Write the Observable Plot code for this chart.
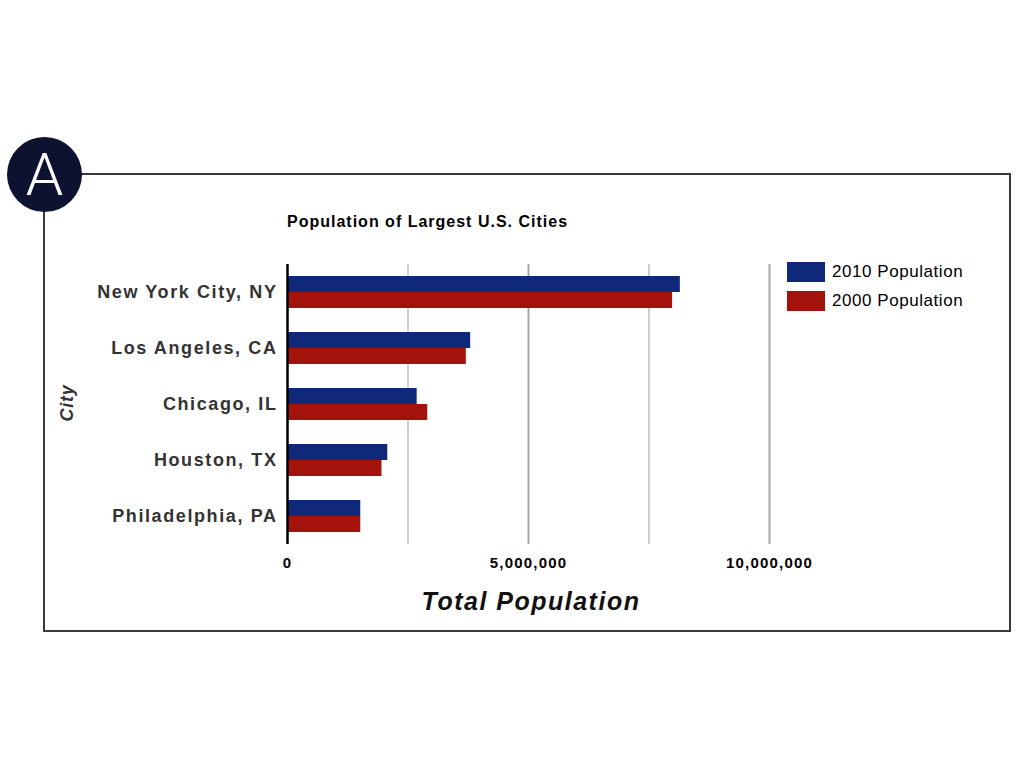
<!DOCTYPE html>
<html>
<head>
<meta charset="utf-8">
<script src="https://cdn.jsdelivr.net/npm/d3@7"></script>
<script src="https://cdn.jsdelivr.net/npm/@observablehq/plot@0.6"></script>
<style>
  body { margin: 0; background: #fff; }
  #wrap { position: relative; width: 1024px; height: 768px; overflow: hidden; font-family: "Liberation Sans", Arial, sans-serif; }
  #chart { position: absolute; left: 0; top: 239px; width: 1024px; }
  .frame { position: absolute; left: 43px; top: 173px; width: 968px; height: 459px; box-sizing: border-box; border: 2px solid #3a3a3a; }
  .badge { position: absolute; left: 7px; top: 137px; width: 75px; height: 75px; border-radius: 50%; background: #0c1230;
           color: #fff; font-family: Roboto, "Open Sans", sans-serif; font-weight: 300; font-size: 60px; line-height: 75px; text-align: center; }
  .title { position: absolute; left: 287px; top: 214px; font-size: 16px; line-height: 16px; font-weight: bold; letter-spacing: 1px; color: #000; white-space: nowrap; }
  .xlabel { position: absolute; left: 331px; width: 400px; top: 589px; text-align: center; font-size: 25px; line-height: 25px; font-weight: bold; font-style: italic; letter-spacing: 1.5px; color: #111; }
  .ylabel { position: absolute; left: 17px; top: 393px; width: 100px; text-align: center; font-size: 18px; line-height: 20px; font-weight: bold; font-style: italic; letter-spacing: 0.8px; color: #333; transform: rotate(-90deg); }
  #legend { position: absolute; left: 787px; top: 262px; }
  .lrow { display: flex; align-items: center; height: 20px; margin-bottom: 9px; }
  .sw { width: 38px; height: 20px; margin-right: 7px; box-sizing: border-box; }
  .lt { font-size: 17px; letter-spacing: 0.55px; color: #000; white-space: nowrap; }
</style>
</head>
<body>
<div id="wrap">
  <div id="chart"></div>
  <div class="frame"></div>
  <div class="badge">A</div>
  <div class="title">Population of Largest U.S. Cities</div>
  <div class="ylabel">City</div>
  <div class="xlabel">Total Population</div>
  <div id="legend"></div>
</div>
<script>
const cities = ["New York City, NY", "Los Angeles, CA", "Chicago, IL", "Houston, TX", "Philadelphia, PA"];
const pop2010 = [8150000, 3800000, 2690000, 2080000, 1520000];
const pop2000 = [7990000, 3710000, 2910000, 1960000, 1520000];
const series = ["2010 Population", "2000 Population"];
const colors = ["#10287a", "#a3130b"];
const xTicks = [0, 5000000, 10000000];
const majorGrid = [5000000, 10000000];
const minorGrid = [2500000, 7500000];

const data = [];
cities.forEach((c, i) => {
  data.push({city: c, series: series[0], value: pop2010[i]});
  data.push({city: c, series: series[1], value: pop2000[i]});
});

const chart = Plot.plot({
  width: 1024,
  height: 386,
  marginLeft: 287,
  marginRight: 255,
  marginTop: 23,
  marginBottom: 80,
  style: {background: "transparent", fontFamily: "'Liberation Sans', Arial, sans-serif"},
  x: {domain: [0, 10000000]},
  fy: {domain: cities, padding: 0},
  y: {domain: series, paddingInner: 0, paddingOuter: 0.66, axis: null},
  color: {domain: series, range: colors},
  marks: [
    Plot.ruleX(minorGrid, {stroke: "#cfcfcf", strokeWidth: 2}),
    Plot.ruleX(majorGrid, {stroke: "#a6a6a6", strokeWidth: 2}),
    Plot.barX(data, {fy: "city", y: "series", x: "value", fill: "series"}),
    Plot.ruleX([0], {stroke: "#000", strokeWidth: 2.5}),
    Plot.axisX({ticks: xTicks, tickFormat: d3.format(","), tickSize: 0, tickPadding: 13, label: null,
                fontSize: 15, fontWeight: "bold", fill: "#000"}),
    Plot.axisFy({anchor: "left", label: null, tickSize: 0, tickPadding: 10,
                 fontSize: 18, fontWeight: "bold", fill: "#333"})
  ]
});
document.getElementById("chart").appendChild(chart);

// letter spacing to match the wide lettering of the original
d3.select(chart).selectAll("[aria-label='fy-axis tick label'] text").attr("letter-spacing", "1.6px");
d3.select(chart).selectAll("[aria-label='x-axis tick label'] text").attr("letter-spacing", "1.2px");

const legend = d3.select("#legend");
series.forEach((s, i) => {
  const row = legend.append("div").attr("class", "lrow");
  row.append("div").attr("class", "sw").style("background", colors[i]);
  row.append("div").attr("class", "lt").text(s);
});
</script>
</body>
</html>
